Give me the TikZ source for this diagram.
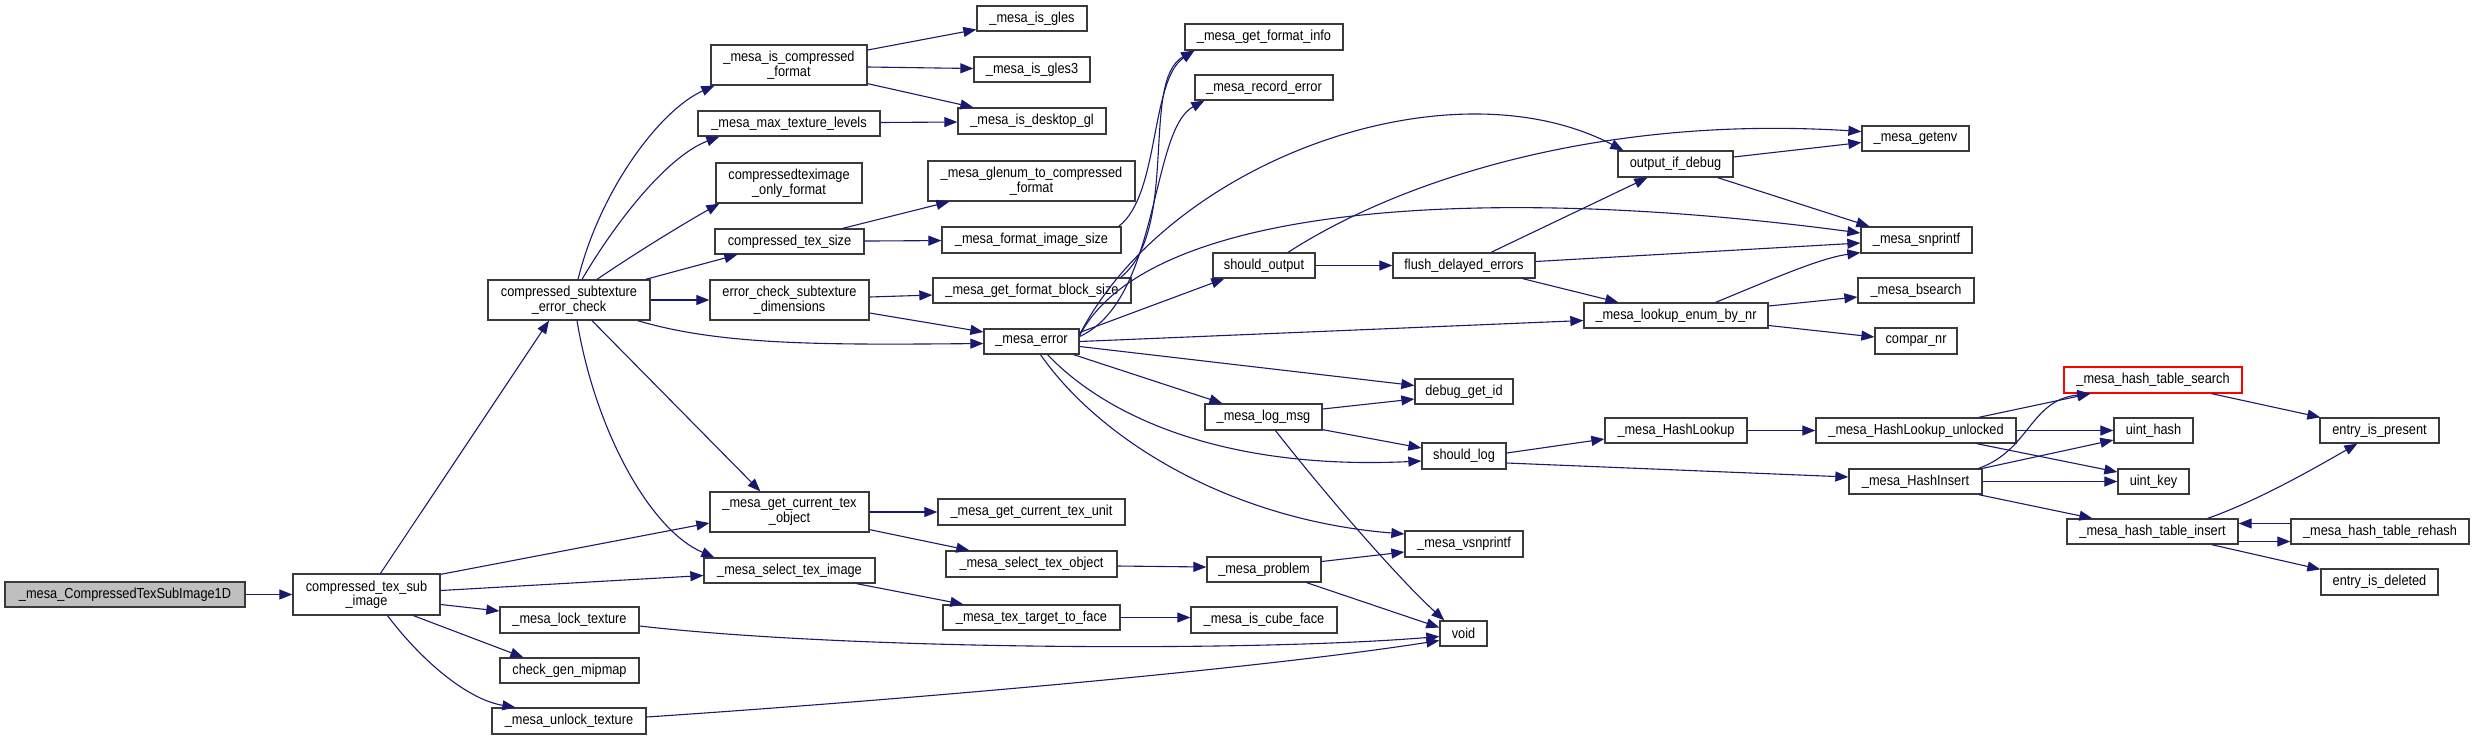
\documentclass[tikz,border=0pt]{standalone}
\usepackage{fontspec}
\setmainfont{Liberation Sans}[FakeStretch=0.88]
\usetikzlibrary{arrows.meta,calc}
\definecolor{edgec}{HTML}{191970}
\definecolor{boxc}{HTML}{3A3A3A}
\definecolor{rootfill}{HTML}{BFBFBF}
\begin{document}
\begin{tikzpicture}[x=1pt,y=-1pt,
  box/.style={draw=boxc, fill=white, line width=1.3pt, inner sep=0pt, align=center,
    font=\fontsize{14.5}{14.5}\selectfont, text=black},
  rootbox/.style={box, fill=rootfill},
  redbox/.style={box, draw=red},
  conn/.style={draw=edgec, line width=1.1pt, -{Triangle[length=13pt,width=10pt]}}]
\useasboundingbox[fill=white] (0,0) rectangle (2475,740);
% nodes
\node[rootbox,minimum width=240pt,minimum height=25pt] (root) at (125,594.5) {\_mesa\_CompressedTexSubImage1D};
\node[box,minimum width=147pt,minimum height=41pt] (ctsi) at (366.5,594.5) {compressed\_tex\_sub\\\_image};
\node[box,minimum width=162pt,minimum height=40pt] (cserr) at (569,300) {compressed\_subtexture\\\_error\_check};
\node[box,minimum width=156pt,minimum height=40pt] (iscf) at (789,65) {\_mesa\_is\_compressed\\\_format};
\node[box,minimum width=182pt,minimum height=25pt] (maxtl) at (789,123.5) {\_mesa\_max\_texture\_levels};
\node[box,minimum width=146pt,minimum height=40pt] (ctof) at (789,183) {compressedteximage\\\_only\_format};
\node[box,minimum width=149pt,minimum height=25pt] (ctsz) at (789.5,241.5) {compressed\_tex\_size};
\node[box,minimum width=159pt,minimum height=40pt] (ecsd) at (789.5,300) {error\_check\_subtexture\\\_dimensions};
\node[box,minimum width=159pt,minimum height=40pt] (gcto) at (789.5,512) {\_mesa\_get\_current\_tex\\\_object};
\node[box,minimum width=171pt,minimum height=25pt] (stimg) at (789.5,570.5) {\_mesa\_select\_tex\_image};
\node[box,minimum width=139pt,minimum height=26pt] (lock) at (569.5,620) {\_mesa\_lock\_texture};
\node[box,minimum width=139pt,minimum height=25pt] (cgm) at (569.5,670.5) {check\_gen\_mipmap};
\node[box,minimum width=154pt,minimum height=26pt] (unlock) at (569,721) {\_mesa\_unlock\_texture};
\node[box,minimum width=110pt,minimum height=25pt] (isgles) at (1032,18.5) {\_mesa\_is\_gles};
\node[box,minimum width=116pt,minimum height=25pt] (isgles3) at (1032,69.5) {\_mesa\_is\_gles3};
\node[box,minimum width=148pt,minimum height=26pt] (isdgl) at (1032,121) {\_mesa\_is\_desktop\_gl};
\node[box,minimum width=207pt,minimum height=40pt] (glenum) at (1031.5,181) {\_mesa\_glenum\_to\_compressed\\\_format};
\node[box,minimum width=179pt,minimum height=26pt] (fis) at (1031.5,240) {\_mesa\_format\_image\_size};
\node[box,minimum width=198pt,minimum height=25pt] (gfbs) at (1032,290.5) {\_mesa\_get\_format\_block\_size};
\node[box,minimum width=95pt,minimum height=25pt] (err) at (1031.5,341.5) {\_mesa\_error};
\node[box,minimum width=187pt,minimum height=26pt] (gctu) at (1031.5,512) {\_mesa\_get\_current\_tex\_unit};
\node[box,minimum width=171pt,minimum height=26pt] (selto) at (1031.5,564) {\_mesa\_select\_tex\_object};
\node[box,minimum width=177pt,minimum height=25pt] (ttf) at (1031.5,617.5) {\_mesa\_tex\_target\_to\_face};
\node[box,minimum width=158pt,minimum height=26pt] (gfi) at (1264,37) {\_mesa\_get\_format\_info};
\node[box,minimum width=138pt,minimum height=25pt] (rec) at (1264,87.5) {\_mesa\_record\_error};
\node[box,minimum width=102pt,minimum height=25pt] (sout) at (1264,265.5) {should\_output};
\node[box,minimum width=117pt,minimum height=26pt] (logmsg) at (1263.5,417) {\_mesa\_log\_msg};
\node[box,minimum width=114pt,minimum height=25pt] (prob) at (1264,569.5) {\_mesa\_problem};
\node[box,minimum width=146pt,minimum height=26pt] (icf) at (1264,620) {\_mesa\_is\_cube\_face};
\node[box,minimum width=142pt,minimum height=25pt] (fde) at (1464,265.5) {flush\_delayed\_errors};
\node[box,minimum width=98pt,minimum height=25pt] (dgi) at (1464,391.5) {debug\_get\_id};
\node[box,minimum width=84pt,minimum height=26pt] (slog) at (1464,456) {should\_log};
\node[box,minimum width=118pt,minimum height=26pt] (vsn) at (1464,544) {\_mesa\_vsnprintf};
\node[box,minimum width=47pt,minimum height=25pt] (void) at (1463.5,633.5) {void};
\node[box,minimum width=115pt,minimum height=26pt] (oid) at (1675.5,164) {output\_if\_debug};
\node[box,minimum width=184pt,minimum height=25pt] (len) at (1676,315.5) {\_mesa\_lookup\_enum\_by\_nr};
\node[box,minimum width=142pt,minimum height=25pt] (hl) at (1676,430.5) {\_mesa\_HashLookup};
\node[box,minimum width=107pt,minimum height=25pt] (genv) at (1915.5,138.5) {\_mesa\_getenv};
\node[box,minimum width=111pt,minimum height=26pt] (snp) at (1916.5,240) {\_mesa\_snprintf};
\node[box,minimum width=116pt,minimum height=25pt] (bs) at (1916,290.5) {\_mesa\_bsearch};
\node[box,minimum width=82pt,minimum height=26pt] (cnr) at (1916,341) {compar\_nr};
\node[box,minimum width=200pt,minimum height=25pt] (hlu) at (1916,430.5) {\_mesa\_HashLookup\_unlocked};
\node[box,minimum width=133pt,minimum height=25pt] (hi) at (1915.5,481.5) {\_mesa\_HashInsert};
\node[redbox,minimum width=178pt,minimum height=26pt] (hts) at (2153,380) {\_mesa\_hash\_table\_search};
\node[box,minimum width=79pt,minimum height=25pt] (uh) at (2153.5,430.5) {uint\_hash};
\node[box,minimum width=71pt,minimum height=25pt] (uk) at (2153.5,481.5) {uint\_key};
\node[box,minimum width=171pt,minimum height=25pt] (hti) at (2152.5,531.5) {\_mesa\_hash\_table\_insert};
\node[box,minimum width=119pt,minimum height=25pt] (eip) at (2379.5,430.5) {entry\_is\_present};
\node[box,minimum width=178pt,minimum height=25pt] (rh) at (2380,531.5) {\_mesa\_hash\_table\_rehash};
\node[box,minimum width=117pt,minimum height=26pt] (eid) at (2379.5,582) {entry\_is\_deleted};
% edges
\draw[conn] (root) -- (ctsi);
\draw[conn] ($(ctsi.north)+(14,0)$) -- ($(cserr.south)+(-20,0)$);
\draw[conn] ($(ctsi.north east)+(0,1)$) -- ($(gcto.west)+(0,11)$);
\draw[conn] ($(ctsi.east)+(0,-4)$) -- ($(stimg.west)+(0,5)$);
\draw[conn] ($(ctsi.east)+(0,10)$) -- ($(lock.west)+(0,-9)$);
\draw[conn] ($(ctsi.south)+(47,0)$) -- ($(cgm.north west)+(24,0)$);
\draw[conn] ($(ctsi.south)+(21,0)$) .. controls (425,665) and (470,700) .. ($(unlock.north west)+(24,0)$);
\draw[conn] ($(cserr.north)+(9,0)$) .. controls (600,190) and (660,110) .. ($(iscf.south west)+(4,0)$);
\draw[conn] ($(cserr.north)+(13,0)$) .. controls (620,215) and (670,155) .. ($(maxtl.south west)+(22,0)$);
\draw[conn] ($(cserr.north)+(28,0)$) .. controls (640,250) and (690,220) .. ($(ctof.south west)+(4,0)$);
\draw[conn] ($(cserr.north east)+(-5,0)$) -- ($(ctsz.south west)+(23,0)$);
\draw[conn] (cserr) -- (ecsd);
\draw[conn] ($(cserr.south east)+(-13,0)$) .. controls (720,345) and (820,345) .. ($(err.west)+(0,2)$);
\draw[conn] ($(cserr.south)+(23,0)$) -- ($(gcto.north west)+(51,0)$);
\draw[conn] ($(cserr.south)+(8,0)$) .. controls (595,430) and (650,530) .. ($(stimg.north west)+(11,0)$);
\draw[conn] ($(iscf.east)+(0,-15)$) -- ($(isgles.west)+(0,11)$);
\draw[conn] ($(iscf.east)+(0,2)$) -- ($(isgles3.west)+(0,-1)$);
\draw[conn] ($(iscf.south east)+(0,-2)$) -- ($(isdgl.north west)+(16,0)$);
\draw[conn] ($(maxtl.east)+(0,-1)$) -- ($(isdgl.west)+(0,1)$);
\draw[conn] ($(ctsz.north east)+(-22,0)$) -- ($(glenum.south west)+(22,0)$);
\draw[conn] (ctsz) -- (fis);
\draw[conn] ($(ecsd.east)+(0,-3)$) -- ($(gfbs.west)+(0,4.5)$);
\draw[conn] ($(ecsd.east)+(0,13)$) -- ($(err.west)+(0,-9.5)$);
\draw[conn] ($(fis.north east)+(-3,0)$) .. controls (1160,195) and (1150,80) .. ($(gfi.south west)+(10,0)$);
\draw[conn] ($(gfbs.north east)+(-11,0)$) .. controls (1180,230) and (1140,80) .. ($(gfi.south west)+(10,0)$);
\draw[conn] ($(err.east)+(0,-5)$) .. controls (1160,300) and (1150,130) .. ($(rec.south west)+(10,0)$);
\draw[conn] ($(err.east)+(0,-7)$) .. controls (1170,160) and (1450,60) .. ($(oid.north west)+(6,0)$);
\draw[conn] ($(err.east)+(0,-6)$) .. controls (1150,200) and (1500,185) .. ($(snp.west)+(0,-7)$);
\draw[conn] ($(err.east)+(0,-9)$) -- ($(sout.south west)+(12,0)$);
\draw[conn] (err.east) -- ($(len.west)+(0,5)$);
\draw[conn] ($(err.east)+(0,5)$) -- ($(dgi.west)+(0,-6)$);
\draw[conn] ($(err.south east)+(-6,0)$) -- ($(logmsg.north west)+(18,0)$);
\draw[conn] ($(err.south)+(16,0)$) .. controls (1110,420) and (1230,470) .. ($(slog.west)+(0,5)$);
\draw[conn] ($(err.south)+(9,0)$) .. controls (1100,440) and (1230,520) .. ($(vsn.west)+(0,-10)$);
\draw[conn] ($(sout.north)+(24,0)$) .. controls (1400,180) and (1600,115) .. ($(genv.west)+(0,-7)$);
\draw[conn] (sout) -- (fde);
\draw[conn] ($(fde.north)+(27,0)$) -- ($(oid.south west)+(30,0)$);
\draw[conn] ($(fde.east)+(0,-4)$) -- ($(snp.west)+(0,3)$);
\draw[conn] ($(fde.south east)+(-13,0)$) -- ($(len.north west)+(35,0)$);
\draw[conn] ($(oid.east)+(0,-7)$) -- ($(genv.west)+(0,4)$);
\draw[conn] ($(oid.south east)+(-16,0)$) -- ($(snp.north west)+(9,0)$);
\draw[conn] ($(len.north east)+(-53,0)$) .. controls (1770,280) and (1820,258) .. ($(snp.south west)+(0,-1)$);
\draw[conn] ($(len.east)+(0,-9.5)$) -- ($(bs.west)+(0,6.5)$);
\draw[conn] ($(len.east)+(0,10)$) -- ($(cnr.west)+(0,-4)$);
\draw[conn] ($(logmsg.east)+(0,-8)$) -- ($(dgi.west)+(0,7.5)$);
\draw[conn] ($(logmsg.south east)+(0,-1)$) -- ($(slog.west)+(0,-8)$);
\draw[conn] ($(logmsg.south)+(12,0)$) .. controls (1330,500) and (1400,580) .. ($(void.north west)+(5,0)$);
\draw[conn] ($(prob.east)+(0,-8)$) -- ($(vsn.west)+(0,8)$);
\draw[conn] ($(prob.south east)+(-15,0)$) -- ($(void.west)+(0,-6)$);
\draw[conn] ($(lock.east)+(0,6)$) .. controls (850,650) and (1250,652) .. ($(void.west)+(0,3)$);
\draw[conn] ($(unlock.east)+(0,-4)$) .. controls (900,700) and (1250,670) .. ($(void.west)+(0,7)$);
\draw[conn] ($(slog.east)+(0,-3)$) -- ($(hl.west)+(0,8.5)$);
\draw[conn] ($(slog.east)+(0,7)$) -- ($(hi.west)+(0,-4.5)$);
\draw[conn] (hl) -- (hlu);
\draw[conn] ($(hlu.north east)+(-38,0)$) -- ($(hts.south west)+(27,0)$);
\draw[conn] (hlu) -- (uh);
\draw[conn] ($(hlu.south east)+(-40,0)$) -- ($(uk.west)+(0,-9.5)$);
\draw[conn] ($(hi.north east)+(-4,0)$) .. controls (2030,450) and (2030,400) .. ($(hts.south west)+(27,0)$);
\draw[conn] (hi.north east) -- ($(uh.west)+(0,9.5)$);
\draw[conn] (hi) -- (uk);
\draw[conn] ($(hi.south east)+(-4,0)$) -- ($(hti.north west)+(26,0)$);
\draw[conn] ($(hts.south east)+(-31,0)$) -- ($(eip.north west)+(1,0)$);
\draw[conn] ($(hti.north east)+(-31,0)$) .. controls (2260,500) and (2320,465) .. ($(eip.south west)+(38,0)$);
\draw[conn] ($(hti.east)+(0,10)$) -- ($(rh.west)+(0,10)$);
\draw[conn] ($(rh.west)+(0,-8)$) -- ($(hti.east)+(0,-8)$);
\draw[conn] ($(hti.south east)+(-27,0)$) -- ($(eid.north west)+(0,1)$);
\draw[conn] (gcto) -- (gctu);
\draw[conn] ($(gcto.south east)+(0,-3)$) -- ($(selto.north west)+(24,0)$);
\draw[conn] ($(selto.east)+(0,2)$) -- ($(prob.west)+(0,-2.5)$);
\draw[conn] ($(stimg.south east)+(-19,0)$) -- ($(ttf.north west)+(21,0)$);
\draw[conn] (ttf.east) -- ($(icf.west)+(0,-2.5)$);
\end{tikzpicture}
\end{document}
